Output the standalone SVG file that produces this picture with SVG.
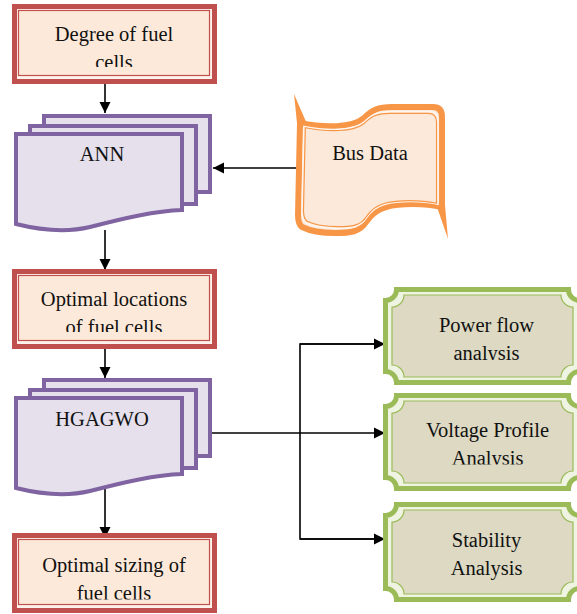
<svg xmlns="http://www.w3.org/2000/svg" width="577" height="614" viewBox="0 0 577 614">
<style>
text{font-family:"Liberation Serif","Times New Roman",serif;font-size:20.5px;fill:#111;text-anchor:middle}
.ro{fill:#FDF2EC;stroke:#C0504D;stroke-width:5}
.ri{fill:#FDE9D9;stroke:#C0504D;stroke-width:1.2}
.pg{fill:#E5E0EC;stroke:#8064A2;stroke-width:4;stroke-linejoin:miter}
.go{fill:#EEF3E2;stroke:#9BBB59;stroke-width:5}
.gi{fill:#DDD9C3;stroke:#9BBB59;stroke-width:1.2}
.cn{fill:none;stroke:#000;stroke-width:1.6}
</style>
<defs>
<marker id="ah" markerUnits="userSpaceOnUse" markerWidth="12" markerHeight="12" refX="11" refY="6" orient="auto">
<path d="M0,0.5 L11,6 L0,11.5 Z" fill="#000"/>
</marker>
<clipPath id="c1"><rect x="0" y="0" width="577" height="67"/></clipPath>
<clipPath id="c2"><rect x="0" y="260" width="577" height="72"/></clipPath>
<clipPath id="c3"><rect x="0" y="530" width="577" height="69.5"/></clipPath>
<clipPath id="c4"><rect x="380" y="280" width="200" height="80"/></clipPath>
<clipPath id="c5"><rect x="380" y="390" width="200" height="74.5"/></clipPath>
<path id="bus" d="M300,123 C325,128 352,128 364,118 C372,110 378,107 392,107 L433,107 Q442,107 442,117 L442,207 C425,203 400,203 386,207 C375,210 370,216 366,222 C360,232 350,233 335,233 C320,233 308,230 302,227 Q298,224 298,215 Z"/>
</defs>

<g id="connectors">
<line class="cn" x1="105" y1="84" x2="105" y2="113" marker-end="url(#ah)"/>
<line class="cn" x1="298" y1="168" x2="213" y2="168" marker-end="url(#ah)"/>
<line class="cn" x1="105" y1="230" x2="105" y2="270" marker-end="url(#ah)"/>
<line class="cn" x1="105" y1="349" x2="105" y2="378" marker-end="url(#ah)"/>
<line class="cn" x1="105" y1="488" x2="105" y2="538" marker-end="url(#ah)"/>
<line class="cn" x1="212" y1="433" x2="385" y2="433" marker-end="url(#ah)"/>
<polyline class="cn" points="385,344 300,344 300,539 385,539"/>
<line class="cn" x1="300" y1="344" x2="385" y2="344" marker-end="url(#ah)"/>
<line class="cn" x1="300" y1="539" x2="385" y2="539" marker-end="url(#ah)"/>
</g>

<g id="degree">
<rect class="ro" x="14.5" y="6.5" width="200" height="75"/>
<rect class="ri" x="18.5" y="10.5" width="191" height="65"/>
<g clip-path="url(#c1)"><text x="114" y="40.7">Degree of fuel</text><text x="114" y="68.7">cells</text></g>
</g>

<g id="ann">
<rect class="pg" x="44" y="116" width="166" height="76"/>
<rect class="pg" x="30" y="126" width="166" height="78"/>
<path class="pg" d="M16,134 L182,134 L182,210 C155,211 125,218 90,227 C65,233 40,230 16,224 Z"/>
<text x="102" y="161">ANN</text>
</g>

<g id="busdata">
<use href="#bus" fill="#FDE9D9" stroke="#F79646" stroke-width="6" stroke-linejoin="round"/>
<polygon points="294,94 297,123 307,124" fill="#F79646"/>
<polygon points="437,207 445,205 448,239" fill="#F79646"/>
<use href="#bus" fill="none" stroke="#FFF6F0" stroke-width="1.6" transform="translate(370 170) scale(0.944 0.927) translate(-370 -170)"/>
<use href="#bus" fill="none" stroke="#F79646" stroke-width="1.3" transform="translate(370 170) scale(0.924 0.9) translate(-370 -170)"/>
<text x="370" y="160">Bus Data</text>
</g>

<g id="locations">
<rect class="ro" x="14.5" y="271.5" width="200" height="75"/>
<rect class="ri" x="18.5" y="275.5" width="191" height="65"/>
<g clip-path="url(#c2)"><text x="114" y="305.7">Optimal locations</text><text x="114" y="333.7">of fuel cells</text></g>
</g>

<g id="hgagwo">
<rect class="pg" x="44" y="380" width="166" height="76"/>
<rect class="pg" x="30" y="390" width="166" height="78"/>
<path class="pg" d="M16,398 L182,398 L182,474 C155,475 125,482 90,491 C65,497 40,494 16,488 Z"/>
<text x="102" y="425.5">HGAGWO</text>
</g>

<g id="sizing">
<rect class="ro" x="14.5" y="535.5" width="200" height="75"/>
<rect class="ri" x="18.5" y="539.5" width="191" height="65"/>
<g clip-path="url(#c3)"><text x="114" y="571.7">Optimal sizing of</text><text x="114" y="599.7">fuel cells</text></g>
</g>

<g id="powerflow">
<path class="go" d="M396.5,289.5 L568.5,289.5 A11,11 0 0 0 579.5,300.5 L579.5,371.5 A11,11 0 0 0 568.5,382.5 L396.5,382.5 A11,11 0 0 0 385.5,371.5 L385.5,300.5 A11,11 0 0 0 396.5,289.5 Z"/>
<path class="gi" d="M404,295 L561,295 A12,12 0 0 0 573,307 L573,365 A12,12 0 0 0 561,377 L404,377 A12,12 0 0 0 392,365 L392,307 A12,12 0 0 0 404,295 Z"/>
<g clip-path="url(#c4)"><text x="486.5" y="331.7">Power flow</text><text x="486.5" y="359.7">analysis</text></g>
</g>

<g id="voltage">
<path class="go" d="M396.5,395.5 L568.5,395.5 A11,11 0 0 0 579.5,406.5 L579.5,477.5 A11,11 0 0 0 568.5,488.5 L396.5,488.5 A11,11 0 0 0 385.5,477.5 L385.5,406.5 A11,11 0 0 0 396.5,395.5 Z"/>
<path class="gi" d="M404,401 L561,401 A12,12 0 0 0 573,413 L573,471 A12,12 0 0 0 561,483 L404,483 A12,12 0 0 0 392,471 L392,413 A12,12 0 0 0 404,401 Z"/>
<g clip-path="url(#c5)"><text x="487.5" y="436.7">Voltage Profile</text><text x="487.5" y="464.7">Analysis</text></g>
</g>

<g id="stability">
<path class="go" d="M396.5,504.5 L568.5,504.5 A11,11 0 0 0 579.5,515.5 L579.5,588.5 A11,11 0 0 0 568.5,599.5 L396.5,599.5 A11,11 0 0 0 385.5,588.5 L385.5,515.5 A11,11 0 0 0 396.5,504.5 Z"/>
<path class="gi" d="M404,510 L561,510 A12,12 0 0 0 573,522 L573,582 A12,12 0 0 0 561,594 L404,594 A12,12 0 0 0 392,582 L392,522 A12,12 0 0 0 404,510 Z"/>
<text x="486.5" y="546.7">Stability</text><text x="486.5" y="574.7">Analysis</text>
</g>
</svg>
